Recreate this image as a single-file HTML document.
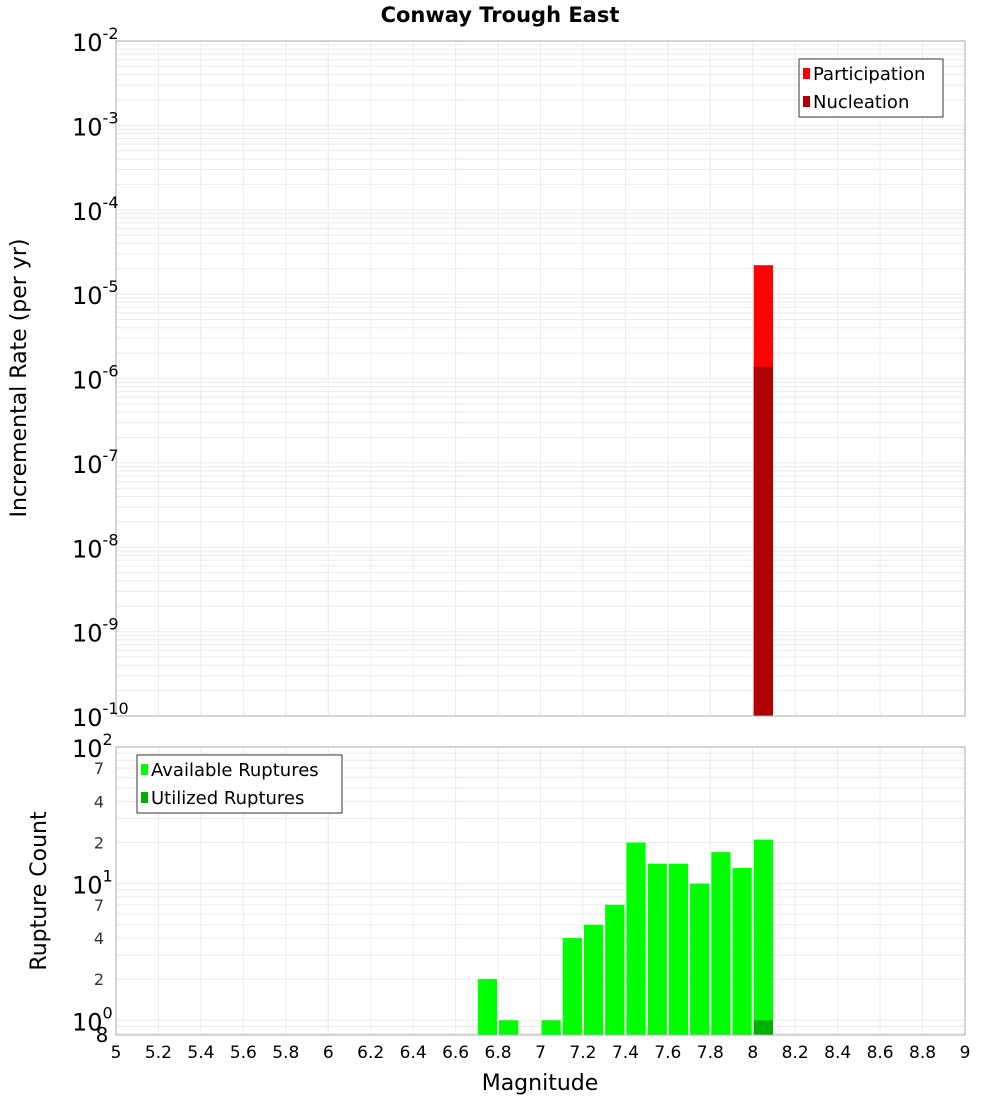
<!DOCTYPE html>
<html><head><meta charset="utf-8"><style>
body{margin:0;background:#fff;font-family:"DejaVu Sans","Liberation Sans",sans-serif}
svg text{font-family:"DejaVu Sans","Liberation Sans",sans-serif}
</style></head><body>
<svg id="c" width="1000" height="1100" xmlns="http://www.w3.org/2000/svg">
<text x="500" y="22" text-anchor="middle" font-size="21" font-weight="bold">Conway Trough East</text>
<text transform="translate(26,378) rotate(-90)" text-anchor="middle" font-size="22">Incremental Rate (per yr)</text>
<text transform="translate(46,891) rotate(-90)" text-anchor="middle" font-size="22">Rupture Count</text>
<text x="540" y="1090" text-anchor="middle" font-size="22">Magnitude</text>
<g id="g"></g>
</svg>
<script>
const rateMags=[8.0];
const participation=[2.2e-5];
const nucleation=[1.38e-6];
const countMags=[6.7,6.8,7.0,7.1,7.2,7.3,7.4,7.5,7.6,7.7,7.8,7.9,8.0];
const available=[2,1,1,4,5,7,20,14,14,10,17,13,21];
const utilizedMags=[8.0];
const utilized=[1];
const xTicks=[5,5.2,5.4,5.6,5.8,6,6.2,6.4,6.6,6.8,7,7.2,7.4,7.6,7.8,8,8.2,8.4,8.6,8.8,9];
const topExps=[-2,-3,-4,-5,-6,-7,-8,-9,-10];
const botMinor=[7,4,2];

const NS="http://www.w3.org/2000/svg";
const g=document.getElementById('g');
function el(t,a,txt){const e=document.createElementNS(NS,t);for(const k in a)e.setAttribute(k,a[k]);if(txt!==undefined)e.textContent=txt;g.appendChild(e);return e;}
const X0=116,X1=965;
const x=m=>X0+(m-5)/4*(X1-X0);
const T0=41,T1=716;
const yTop=v=>T0+(-2-Math.log10(v))*(T1-T0)/8;
const B0=747,B1=1035,BMIN=0.78,BMAX=100;
const yBot=v=>B1-(Math.log10(v)-Math.log10(BMIN))/(Math.log10(BMAX)-Math.log10(BMIN))*(B1-B0);

// grids
for(const t of xTicks){
  let e=el('line',{x1:x(t),x2:x(t),y1:T0,y2:T1,stroke:'#ebebeb'});
  
  e=el('line',{x1:x(t),x2:x(t),y1:B0,y2:B1,stroke:'#ebebeb'});
  
}
for(let d=-10;d<-2;d++)for(let k=1;k<10;k++){
  const y=yTop(k*Math.pow(10,d));
  const e=el('line',{x1:X0,x2:X1,y1:y,y2:y,stroke:'#ebebeb'});
  
}
for(let d=-1;d<2;d++)for(let k=1;k<10;k++){
  const v=k*Math.pow(10,d);if(v<BMIN||v>BMAX)continue;
  const y=yBot(v);
  const e=el('line',{x1:X0,x2:X1,y1:y,y2:y,stroke:'#ebebeb'});
  
}
// top bars
rateMags.forEach((m,i)=>{
  let e=el('rect',{x:x(m)+1,y:yTop(participation[i]),width:x(m+0.1)-x(m)-2,height:T1-yTop(participation[i]),fill:'#ff0000'});
  
  e=el('rect',{x:x(m)+1,y:yTop(nucleation[i]),width:x(m+0.1)-x(m)-2,height:T1-yTop(nucleation[i]),fill:'#b00000'});
  
});
// bottom bars
countMags.forEach((m,i)=>{
  const e=el('rect',{x:x(m)+1,y:yBot(available[i]),width:x(m+0.1)-x(m)-2,height:B1-yBot(available[i]),fill:'#00ff00'});
  
});
utilizedMags.forEach((m,i)=>{
  const e=el('rect',{x:x(m)+1,y:yBot(utilized[i]),width:x(m+0.1)-x(m)-2,height:B1-yBot(utilized[i]),fill:'#00b000'});
  
});
// frames
let f=el('rect',{x:X0,y:T0,width:X1-X0,height:T1-T0,fill:'none',stroke:'#aaa'});

f=el('rect',{x:X0,y:B0,width:X1-X0,height:B1-B0,fill:'none',stroke:'#aaa'});

// x tick labels
for(const t of xTicks){
  const e=el('text',{x:x(t),y:1058,'text-anchor':'middle','font-size':17},String(t));
  
}
// top y labels
for(const d of topExps){
  const y=yTop(Math.pow(10,d));
  const e=el('text',{x:72,y:y+10,'font-size':24});
  
  const t1=document.createElementNS(NS,'tspan');t1.textContent='10';e.appendChild(t1);
  const t2=document.createElementNS(NS,'tspan');t2.setAttribute('dy','-12');t2.setAttribute('font-size','16');t2.textContent=String(d);e.appendChild(t2);
}
// bottom y labels
[[100,'2'],[10,'1'],[1,'0']].forEach(([v,p])=>{
  const y=yBot(v);
  const e=el('text',{x:72,y:y+10,'font-size':24});
  
  const t1=document.createElementNS(NS,'tspan');t1.textContent='10';e.appendChild(t1);
  const t2=document.createElementNS(NS,'tspan');t2.setAttribute('dy','-12');t2.setAttribute('font-size','16');t2.textContent=p;e.appendChild(t2);
});
for(const d of [1,10])for(const k of botMinor){
  const e=el('text',{x:104,y:yBot(k*d)+6,'text-anchor':'end','font-size':16,fill:'#333'},String(k));
  
}
let e8=el('text',{x:102,y:1042,'text-anchor':'middle','font-size':20},'8');

// legends
function legend(x0,y0,w,items,name){
  const r=el('rect',{x:x0,y:y0,width:w,height:58,fill:'#fff',stroke:'#333'});
  
  items.forEach(([c,l],i)=>{
    const s=el('rect',{x:x0+4,y:y0+9+i*28,width:7,height:11,fill:c});
    
    const t=el('text',{x:x0+14,y:y0+21+i*28,'font-size':18},l);
    
  });
}
legend(799,59,144,[['#ff0000','Participation'],['#b00000','Nucleation']],'top-legend');
legend(137,755,205,[['#00ff00','Available Ruptures'],['#00b000','Utilized Ruptures']],'bottom-legend');
</script>
</body></html>
